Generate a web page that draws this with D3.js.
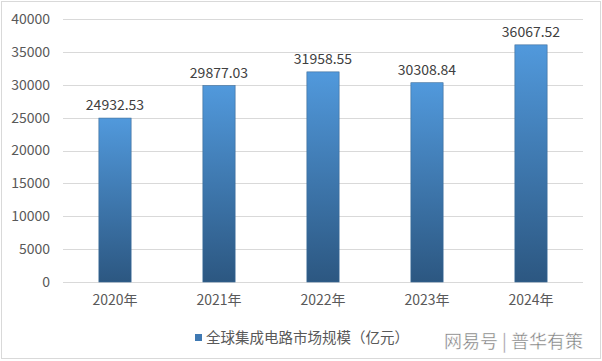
<!DOCTYPE html>
<html>
<head>
<meta charset="utf-8">
<script src="https://cdn.jsdelivr.net/npm/d3@7"></script>
<style>
  body { margin: 0; background: #fff; }
  svg { display: block; font-family: "Noto Sans CJK SC", "Liberation Sans", sans-serif; }
</style>
</head>
<body>
<div id="chart"></div>
<script>
// 全球集成电路市场规模（亿元）
const years = ['2020年', '2021年', '2022年', '2023年', '2024年'];
const values = [24932.53, 29877.03, 31958.55, 30308.84, 36067.52];
const yTicks = [0, 5000, 10000, 15000, 20000, 25000, 30000, 35000, 40000];
const legendLabel = '全球集成电路市场规模（亿元）';
const watermark = '网易号 | 普华有策';

const width = 602, height = 361;
const svg = d3.select('#chart').append('svg')
  .attr('width', width)
  .attr('height', height);

// outer frame
svg.append('rect')
  .attr('x', 1.5).attr('y', 1.5)
  .attr('width', width - 3).attr('height', height - 4)
  .attr('fill', '#fff')
  .attr('stroke', '#d9d9d9');

const defs = svg.append('defs');
const grad = defs.append('linearGradient')
  .attr('id', 'barGrad')
  .attr('x1', 0).attr('y1', 0).attr('x2', 0).attr('y2', 1);
grad.append('stop').attr('offset', '0%').attr('stop-color', '#5199dc');
grad.append('stop').attr('offset', '100%').attr('stop-color', '#2c5781');

// scales
const x = d3.scaleBand()
  .domain(years)
  .range([63, 583])
  .paddingInner(0.69)
  .paddingOuter(0.345);

const y = d3.scaleLinear()
  .domain([0, 40000])
  .range([282, 19]);

// grid
svg.append('g')
  .selectAll('line')
  .data(yTicks)
  .join('line')
  .attr('x1', 63).attr('x2', 583)
  .attr('y1', d => Math.round(y(d)) + 0.5)
  .attr('y2', d => Math.round(y(d)) + 0.5)
  .attr('stroke', '#d9d9d9')
  .attr('stroke-width', 1);

// y labels
svg.append('g')
  .selectAll('text')
  .data(yTicks)
  .join('text')
  .attr('x', 50)
  .attr('y', d => y(d))
  .attr('dy', '0.35em')
  .attr('text-anchor', 'end')
  .attr('font-size', 14)
  .attr('fill', '#595959')
  .text(d => d);

// bars
svg.append('g')
  .selectAll('rect')
  .data(values)
  .join('rect')
  .attr('x', (d, i) => x(years[i]))
  .attr('y', d => y(d))
  .attr('width', x.bandwidth())
  .attr('height', d => y(0) - y(d))
  .attr('fill', 'url(#barGrad)')
  .attr('stroke', '#3a6a98')
  .attr('stroke-width', 0.6);

// value labels
svg.append('g')
  .selectAll('text')
  .data(values)
  .join('text')
  .attr('x', (d, i) => x(years[i]) + x.bandwidth() / 2)
  .attr('y', d => y(d) - 8)
  .attr('text-anchor', 'middle')
  .attr('font-size', 14)
  .attr('fill', '#404040')
  .text(d => d.toFixed(2));

// x labels
svg.append('g')
  .selectAll('text')
  .data(years)
  .join('text')
  .attr('x', d => x(d) + x.bandwidth() / 2)
  .attr('y', 305)
  .attr('text-anchor', 'middle')
  .attr('font-size', 14)
  .attr('fill', '#595959')
  .text(d => d);

// legend
svg.append('rect')
  .attr('x', 195).attr('y', 334)
  .attr('width', 7).attr('height', 7)
  .attr('fill', '#3f79b3');
svg.append('text')
  .attr('x', 206).attr('y', 343)
  .attr('font-size', 14.5)
  .attr('fill', '#595959')
  .text(legendLabel);

// watermark
svg.append('text')
  .attr('x', 583).attr('y', 348)
  .attr('text-anchor', 'end')
  .attr('font-size', 18)
  .attr('fill', '#7a7a7a')
  .attr('stroke', '#fff')
  .attr('stroke-width', 0.4)
  .text(watermark);
</script>
</body>
</html>
